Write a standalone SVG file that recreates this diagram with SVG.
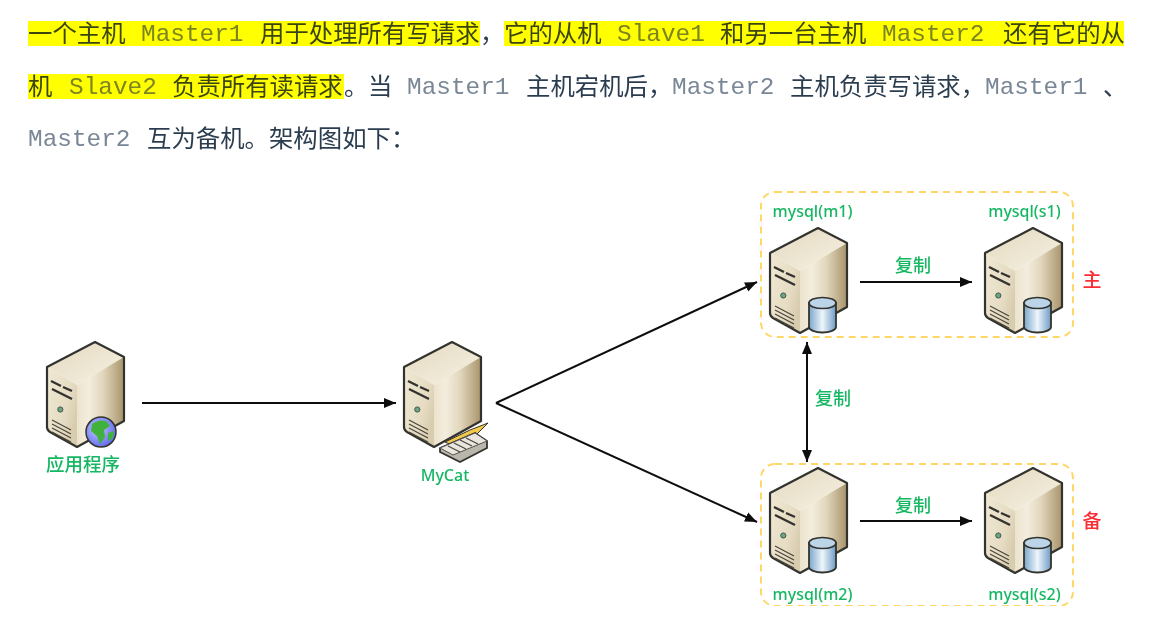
<svg xmlns="http://www.w3.org/2000/svg" width="1168" height="632" viewBox="0 0 1168 632">
<style>
.cn{font-family:"Noto Sans CJK SC","Noto Sans",sans-serif;font-size:24.4px;fill:#2c3e50;font-weight:400}
.mono{font-family:"Liberation Mono",monospace;font-size:24.4px;fill:#7a8796}
.hl .cn{fill:#3a4510}.hl .mono{fill:#7d8420}
.lb{font-family:"Noto Sans","Noto Sans CJK SC",sans-serif;fill:#17b763;text-anchor:middle;font-weight:500}
.red{font-family:"Noto Sans CJK SC",sans-serif;fill:#fb2f36;font-size:19px;text-anchor:middle;font-weight:500}
.grp{fill:none;stroke:#ffd767;stroke-width:2;stroke-dasharray:7 5}
.cnn{stroke:#111;stroke-width:2;fill:none}
.o{fill:none;stroke:#33332e;stroke-width:2.2;stroke-linejoin:round}
.s{fill:none;stroke:#4a473c;stroke-width:1.2}
.k{fill:none;stroke:#33332e;stroke-width:2.4}
</style>
<defs>
<filter id="soft" x="0" y="0" width="100%" height="100%"><feGaussianBlur stdDeviation="0.5"/></filter>
<marker id="a" markerUnits="userSpaceOnUse" markerWidth="14" markerHeight="12" refX="12" refY="6" orient="auto-start-reverse"><path d="M0,1L12,6L0,11Z" fill="#111"/></marker>
<linearGradient id="gTop" x1="0" y1="0" x2="1" y2="1"><stop offset="0" stop-color="#e3d9bf"/><stop offset="1" stop-color="#f6f1e3"/></linearGradient>
<linearGradient id="gLeft" x1="0" y1="0" x2="1" y2="0.6"><stop offset="0" stop-color="#efe8d3"/><stop offset="0.7" stop-color="#e6dcc3"/><stop offset="1" stop-color="#d8ccae"/></linearGradient>
<linearGradient id="gRight" x1="0" y1="0" x2="1" y2="0"><stop offset="0" stop-color="#ece3cd"/><stop offset="0.25" stop-color="#f3eddd"/><stop offset="0.55" stop-color="#e2d7bd"/><stop offset="1" stop-color="#a8946a"/></linearGradient>
<linearGradient id="gCyl" x1="0" y1="0" x2="1" y2="0"><stop offset="0" stop-color="#7aa6cc"/><stop offset="0.5" stop-color="#eef5fb"/><stop offset="1" stop-color="#6d9bc4"/></linearGradient>
<radialGradient id="gGlobe" cx="0.4" cy="0.4" r="0.7"><stop offset="0" stop-color="#c3caff"/><stop offset="1" stop-color="#5560ea"/></radialGradient>
<g id="server">
<path d="M0,25L48,0L77,15L30,43Z" fill="url(#gTop)"/>
<path d="M0,25L30,43V105L3,90Q0,88 0,85Z" fill="url(#gLeft)"/>
<path d="M30,43L77,15V79L30,105Z" fill="url(#gRight)"/>
<path class="o" d="M0,25L48,0L77,15V79L30,105L3,90Q0,88 0,85Z"/>
<path class="k" d="M4,39L14,44M16,45L25,49M5,47L25,57"/>
<circle cx="13.3" cy="67.5" r="2.6" fill="#6aa583" stroke="#44584c" stroke-width="1"/>
<path class="s" d="M5,78L24,88M5,82L24,92M5,86L24,96M5,90L24,100"/>
</g>
<g id="cyl">
<path d="M39,75V99A13.5,5.5 0 0 0 66,99V75Z" fill="url(#gCyl)" stroke="#33332e" stroke-width="1.8"/>
<ellipse cx="52.5" cy="75" rx="13.5" ry="5.5" fill="#bcd4e8" stroke="#33332e" stroke-width="1.6"/>
</g>
</defs>
<rect width="1168" height="632" fill="#fff"/>
<g filter="url(#soft)">
<g id="text-block">
<g fill="#ffff00"><rect x="28" y="21" width="452" height="25"/><rect x="504" y="21" width="620" height="25"/><rect x="28" y="74" width="316" height="25"/></g>
<g class="hl">
<text class="cn" x="28" y="42">一个主机</text><text class="mono" x="141" y="41">Master1</text><text class="cn" x="260" y="42">用于处理所有写请求</text>
<text class="cn" x="504" y="42">它的从机</text><text class="mono" x="617" y="41">Slave1</text><text class="cn" x="720" y="42">和另一台主机</text><text class="mono" x="882" y="41">Master2</text><text class="cn" x="1003" y="42">还有它的从</text>
<text class="cn" x="28" y="95">机</text><text class="mono" x="69" y="94">Slave2</text><text class="cn" x="172" y="95">负责所有读请求</text>
</g>
<text class="cn" x="480" y="42">，</text>
<text class="cn" x="344" y="95">。</text><text class="cn" x="368" y="95">当</text><text class="mono" x="407" y="94">Master1</text><text class="cn" x="526" y="95">主机宕机后，</text><text class="mono" x="672" y="94">Master2</text><text class="cn" x="790" y="95">主机负责写请求，</text><text class="mono" x="985" y="94">Master1</text><text class="cn" x="1103" y="95">、</text>
<text class="mono" x="28" y="146">Master2</text><text class="cn" x="147" y="147">互为备机。架构图如下：</text>
</g>
<g id="connectors">
<path class="cnn" marker-end="url(#a)" d="M142,403H396"/>
<path class="cnn" marker-end="url(#a)" d="M496,403L757,282"/>
<path class="cnn" marker-end="url(#a)" d="M496,403L757,522"/>
<path class="cnn" marker-start="url(#a)" marker-end="url(#a)" d="M807,342V462"/>
<path class="cnn" marker-end="url(#a)" d="M860,282H972"/>
<path class="cnn" marker-end="url(#a)" d="M860,521H972"/>
<text class="lb" x="913" y="272" font-size="18">复制</text>
<text class="lb" x="833" y="405" font-size="18">复制</text>
<text class="lb" x="913" y="512" font-size="18">复制</text>
</g>
<g id="group-main"><rect class="grp" x="761" y="192" width="312" height="145" rx="14"/><text class="red" x="1092" y="287">主</text></g>
<g id="group-backup"><rect class="grp" x="761" y="464" width="312" height="142" rx="14"/><text class="red" x="1092" y="528">备</text></g>
<g id="app">
<use href="#server" x="47" y="342"/>
<circle cx="101" cy="432" r="15" fill="url(#gGlobe)" stroke="#33332e" stroke-width="1.5"/>
<path d="M92,424Q98,419 106,421L110,426L104,430L105,437L100,444L97,436L91,431Z M108,433L114,431L113,438L108,441Z" fill="#3fb23a"/>
<text class="lb" x="83" y="471" font-size="18.5">应用程序</text>
</g>
<g id="mycat">
<use href="#server" x="404" y="342"/>
<path d="M41,100L66,88L84,81L72,93L50,104Z" transform="translate(404,342)" fill="#f2c94c" stroke="#33332e" stroke-width="1"/>
<g transform="translate(404,342)">
<path d="M36,106L71,91L83,99V106L56,120L36,110Z" fill="#b9b6ac" stroke="#33332e" stroke-width="1.8"/>
<path d="M36,106L71,91L83,99L49,113Z" fill="#e8e6de" stroke="#55544e" stroke-width="1"/>
<path class="s" d="M44,104L56,110M50,101L62,107M56,98L68,104M62,96L74,102"/>
</g>
<text class="lb" x="445" y="481" font-size="16">MyCat</text>
</g>
<g id="m1"><use href="#server" x="770" y="228"/><use href="#cyl" x="770" y="228"/><text class="lb" x="812.5" y="217" font-size="16">mysql(m1)</text></g>
<g id="s1"><use href="#server" x="985" y="228"/><use href="#cyl" x="985" y="228"/><text class="lb" x="1024.5" y="217" font-size="16">mysql(s1)</text></g>
<g id="m2"><use href="#server" x="770" y="468"/><use href="#cyl" x="770" y="468"/><text class="lb" x="812.5" y="600" font-size="16">mysql(m2)</text></g>
<g id="s2"><use href="#server" x="985" y="468"/><use href="#cyl" x="985" y="468"/><text class="lb" x="1024.5" y="600" font-size="16">mysql(s2)</text></g>
</g>
</svg>
